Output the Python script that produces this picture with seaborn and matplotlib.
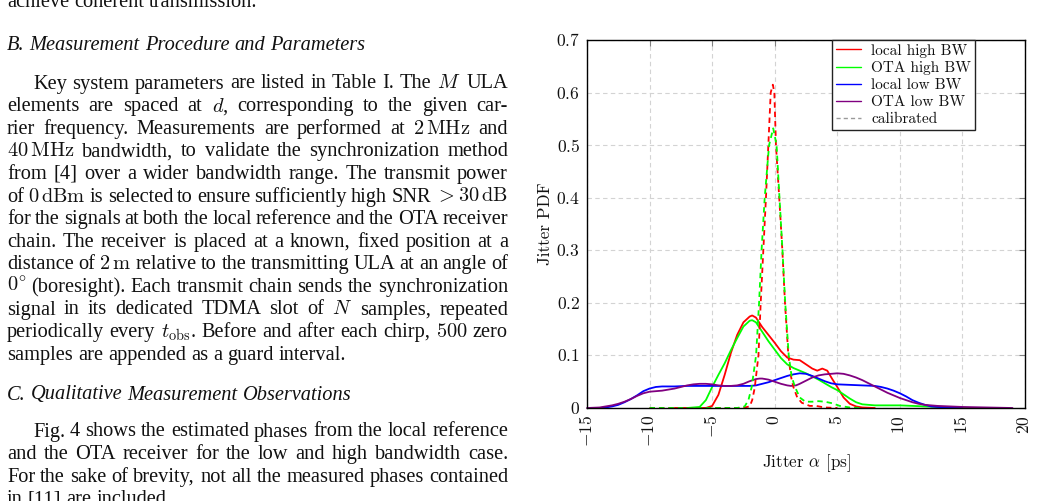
import matplotlib
matplotlib.use("Agg")
import matplotlib.pyplot as plt
from matplotlib.lines import Line2D
import seaborn as sns

# ---------------- chart data ----------------
x_ticks = [-15, -10, -5, 0, 5, 10, 15, 20]
y_ticks = [0, 0.1, 0.2, 0.3, 0.4, 0.5, 0.6, 0.7]
x_tick_labels = ["$-15$", "$-10$", "$-5$", "$0$", "$5$", "$10$", "$15$", "$20$"]
y_tick_labels = ["$0$", "$0.1$", "$0.2$", "$0.3$", "$0.4$", "$0.5$", "$0.6$", "$0.7$"]
series_labels = ["local high BW", "OTA high BW", "local low BW", "OTA low BW", "calibrated"]

x_local_high = [-8, -5.5, -5.0, -4.5, -4.0, -3.5, -3.0, -2.5, -2.0, -1.8, -1.5, -1.0, -0.5, 0.0,
                0.5, 1.0, 1.5, 2.0, 2.5, 3.0, 3.4, 3.8, 4.2, 4.6, 5.0, 5.5, 6.0, 6.5, 7.0, 8.0]
pdf_local_high = [0, 0, 0.004, 0.025, 0.063, 0.105, 0.139, 0.163, 0.174, 0.176, 0.172, 0.154, 0.139, 0.124,
                  0.108, 0.096, 0.092, 0.091, 0.083, 0.075, 0.071, 0.075, 0.071, 0.055, 0.040, 0.020, 0.008,
                  0.003, 0.001, 0]

x_ota_high = [-7, -6, -5.5, -5.0, -4.5, -4.0, -3.5, -3.0, -2.5, -2.0, -1.8, -1.5, -1.0, -0.5, 0.0, 0.5,
              1.0, 1.5, 2.0, 2.5, 3.0, 3.5, 4.0, 4.5, 5.0, 5.5, 6.0, 6.5, 7.0, 8.0, 9.0, 10.0, 11.0,
              12.0, 13.0, 14.0, 16.0]
pdf_ota_high = [0, 0.002, 0.015, 0.040, 0.063, 0.085, 0.110, 0.133, 0.155, 0.166, 0.167, 0.163, 0.145,
                0.127, 0.111, 0.095, 0.083, 0.076, 0.071, 0.066, 0.060, 0.054, 0.047, 0.040, 0.034, 0.026,
                0.018, 0.011, 0.007, 0.005, 0.005, 0.005, 0.004, 0.003, 0.002, 0.001, 0]

x_local_low = [-14, -13.5, -13, -12.5, -12, -11.5, -11, -10.5, -10, -9.5, -9, -8, -7, -6, -5, -4, -3,
               -2, -1.5, -1, -0.5, 0, 0.5, 1, 1.5, 2, 2.5, 3, 3.5, 4, 4.5, 5, 6, 7, 8, 8.5, 9, 9.5, 10,
               10.5, 11, 11.5, 12, 12.5, 13, 14, 15]
pdf_local_low = [0, 0.001, 0.003, 0.006, 0.011, 0.017, 0.024, 0.032, 0.037, 0.040, 0.041, 0.041, 0.042,
                 0.042, 0.042, 0.042, 0.042, 0.042, 0.043, 0.046, 0.049, 0.053, 0.057, 0.061, 0.064, 0.066,
                 0.065, 0.061, 0.056, 0.051, 0.047, 0.045, 0.044, 0.043, 0.042, 0.040, 0.037, 0.033, 0.028,
                 0.022, 0.015, 0.010, 0.006, 0.003, 0.002, 0.001, 0]

x_ota_low = [-15, -14, -13.5, -13, -12.5, -12, -11.5, -11, -10.5, -10, -9.5, -9, -8.5, -8, -7.5, -7,
             -6.5, -6, -5.5, -5, -4.5, -4, -3.5, -3, -2.5, -2, -1.5, -1.2, -1, -0.5, 0, 0.5, 1, 1.3, 1.7,
             2, 2.5, 3, 3.5, 4, 4.5, 5, 5.5, 6, 6.5, 7, 7.5, 8, 8.5, 9, 9.5, 10, 10.5, 11, 11.5, 12, 13,
             14, 15, 17, 19]
pdf_ota_low = [0, 0.001, 0.003, 0.005, 0.008, 0.012, 0.017, 0.023, 0.028, 0.031, 0.032, 0.033, 0.035,
               0.037, 0.040, 0.043, 0.045, 0.046, 0.046, 0.045, 0.043, 0.042, 0.042, 0.043, 0.046, 0.051,
               0.055, 0.056, 0.056, 0.054, 0.050, 0.046, 0.043, 0.042, 0.043, 0.046, 0.052, 0.058, 0.062,
               0.064, 0.065, 0.066, 0.065, 0.062, 0.058, 0.053, 0.047, 0.041, 0.035, 0.029, 0.024, 0.019,
               0.015, 0.011, 0.008, 0.006, 0.004, 0.003, 0.002, 0.001, 0]

x_local_high_cal = [-10, -2.6, -2.0, -1.8, -1.6, -1.3, -1.12, -0.91, -0.7, -0.51, -0.32, -0.15, -0.03,
                    0.1, 0.36, 0.61, 0.82, 1.09, 1.3, 1.49, 1.8, 2.16, 2.8, 3.3, 4.0, 5.0]
pdf_local_high_cal = [0, 0, 0.003, 0.015, 0.038, 0.10, 0.20, 0.30, 0.40, 0.50, 0.60, 0.615, 0.60, 0.50,
                      0.40, 0.30, 0.20, 0.10, 0.06, 0.04, 0.02, 0.01, 0.004, 0.004, 0.001, 0]

x_ota_high_cal = [-10, -3, -2.4, -2.1, -1.84, -1.49, -1.25, -1.05, -0.8, -0.45, -0.12, 0.15, 0.38, 0.62,
                  0.84, 1.12, 1.35, 1.62, 2.0, 2.45, 3.0, 3.5, 4.0, 4.6, 5.2, 6.0, 7.0]
pdf_ota_high_cal = [0, 0, 0.003, 0.015, 0.04, 0.10, 0.20, 0.30, 0.40, 0.50, 0.532, 0.50, 0.40, 0.30,
                    0.20, 0.10, 0.06, 0.04, 0.02, 0.012, 0.012, 0.013, 0.012, 0.009, 0.004, 0.001, 0]

# ---------------- surrounding page text ----------------
top_line = "achieve coherent transmission."
heading_b = "B. Measurement Procedure and Parameters"
para_b = [
    r"Key system parameters are listed in Table I. The $M$ ULA",
    r"elements are spaced at $d$, corresponding to the given car-",
    r"rier frequency. Measurements are performed at $2\,\mathrm{MHz}$ and",
    r"$40\,\mathrm{MHz}$ bandwidth, to validate the synchronization method",
    r"from [4] over a wider bandwidth range. The transmit power",
    r"of $0\,\mathrm{dBm}$ is selected to ensure sufficiently high SNR $>30\,\mathrm{dB}$",
    r"for the signals at both the local reference and the OTA receiver",
    r"chain. The receiver is placed at a known, fixed position at a",
    r"distance of $2\,\mathrm{m}$ relative to the transmitting ULA at an angle of",
    r"$0^{\circ}$ (boresight). Each transmit chain sends the synchronization",
    r"signal in its dedicated TDMA slot of $N$ samples, repeated",
    r"periodically every $t_{\mathrm{obs}}$. Before and after each chirp, $500$ zero",
    r"samples are appended as a guard interval.",
]
heading_c = "C. Qualitative Measurement Observations"
para_c = [
    r"Fig. 4 shows the estimated phases from the local reference",
    r"and the OTA receiver for the low and high bandwidth case.",
    r"For the sake of brevity, not all the measured phases contained",
    r"in [11] are included.",
]

# ---------------- styling ----------------
sns.set_style("white")
plt.rcParams["mathtext.fontset"] = "cm"
plt.rcParams["font.family"] = ["Liberation Serif", "DejaVu Serif"]

RED, GREEN, BLUE, PURPLE = "#ff0000", "#00ff00", "#0000ff", "#800080"

W, H = 1037, 501
fig = plt.figure(figsize=(W / 100, H / 100), dpi=100)
fig.patch.set_facecolor("white")

AX_L, AX_R, AX_T, AX_B = 587, 1025, 40, 408
ax = fig.add_axes([AX_L / W, 1 - AX_B / H, (AX_R - AX_L) / W, (AX_B - AX_T) / H])

plot_spec = [
    (x_local_high, pdf_local_high, RED, False),
    (x_ota_high, pdf_ota_high, GREEN, False),
    (x_local_low, pdf_local_low, BLUE, False),
    (x_ota_low, pdf_ota_low, PURPLE, False),
    (x_local_high_cal, pdf_local_high_cal, RED, True),
    (x_ota_high_cal, pdf_ota_high_cal, GREEN, True),
]
for xs, ys, col, dashed in plot_spec:
    sns.lineplot(x=xs, y=ys, ax=ax, color=col, linewidth=1.3, estimator=None, sort=False)
    ln = ax.lines[-1]
    ln.set_clip_on(False)
    ln.set_zorder(3)
    if dashed:
        ln.set_dashes([3, 2.2])

ax.set_xlim(-15, 20)
ax.set_ylim(0, 0.7)
ax.set_xticks(x_ticks)
ax.set_xticklabels(x_tick_labels, rotation=90, ha="center", va="top")
ax.set_yticks(y_ticks)
ax.set_yticklabels(y_tick_labels)
ax.tick_params(axis="both", direction="in", length=4, width=0.8, color="#808080",
               top=True, right=True, labelsize=12.6, pad=5, labelcolor="#111111")
ax.grid(True, color="#d3d3d3", linestyle=(0, (4, 3)), linewidth=0.8)
ax.set_axisbelow(True)
for sp in ax.spines.values():
    sp.set_color("black")
    sp.set_linewidth(1.0)
    sp.set_zorder(4)

ax.set_ylabel("Jitter PDF", fontfamily="cmr10", fontsize=12.3, va="center", color="#111111")
ax.yaxis.set_label_coords((545 - AX_L) / (AX_R - AX_L), 0.5)
ax.set_xlabel(r"Jitter $\alpha$ [ps]", fontfamily="cmr10", fontsize=12.3, va="center", color="#111111")
ax.xaxis.set_label_coords(0.5, (AX_B - 463) / (AX_B - AX_T))

handles = [Line2D([], [], color=RED, lw=1.0), Line2D([], [], color=GREEN, lw=1.0),
           Line2D([], [], color=BLUE, lw=1.0), Line2D([], [], color=PURPLE, lw=1.0),
           Line2D([], [], color="#9a9a9a", lw=1.0, ls=(0, (3, 2.2)))]
leg = ax.legend(handles, series_labels, loc="upper right",
                bbox_to_anchor=((975 - AX_L) / (AX_R - AX_L), 1.0), borderaxespad=0,
                frameon=True, fancybox=False, edgecolor="#222222", framealpha=1,
                prop={"family": "cmr10", "size": 11}, handlelength=1.65, handletextpad=0.65,
                labelspacing=0.22, borderpad=0.25)
leg.get_frame().set_linewidth(1.0)
leg.set_zorder(5)
for t in leg.get_texts():
    t.set_color("#111111")

# ---------------- page text placement (justified) ----------------
renderer = fig.canvas.get_renderer()
TXT = 14.7
LEFT, RIGHT = 7, 508
INDENT = 26
SPACE = 0.25 * TXT * 100 / 72


def place(line, base, justify, indent=0, italic=False):
    words = line.split(" ")
    texts = [fig.text(0, 0, w, fontsize=TXT, style="italic" if italic else "normal",
                      ha="left", va="baseline", color="#111111") for w in words]
    widths = [t.get_window_extent(renderer=renderer).width for t in texts]
    x0 = LEFT + indent
    if justify and len(words) > 1:
        gap = (RIGHT - x0 - sum(widths)) / (len(words) - 1)
    else:
        gap = SPACE
    x = x0
    for t, w in zip(texts, widths):
        t.set_position((x / W, 1 - base / H))
        x += w + gap


LSTEP = 22.6
place(top_line, 7, False)
place(heading_b, 49.5, False, italic=True)
b0 = 88.5
for i, line in enumerate(para_b):
    place(line, b0 + i * LSTEP, i < len(para_b) - 1, indent=INDENT if i == 0 else 0)
place(heading_c, 399.5, False, italic=True)
c0 = 436.5
for i, line in enumerate(para_c):
    place(line, c0 + i * LSTEP, i < len(para_c) - 1, indent=INDENT if i == 0 else 0)

fig.savefig("out.png", dpi=100)
